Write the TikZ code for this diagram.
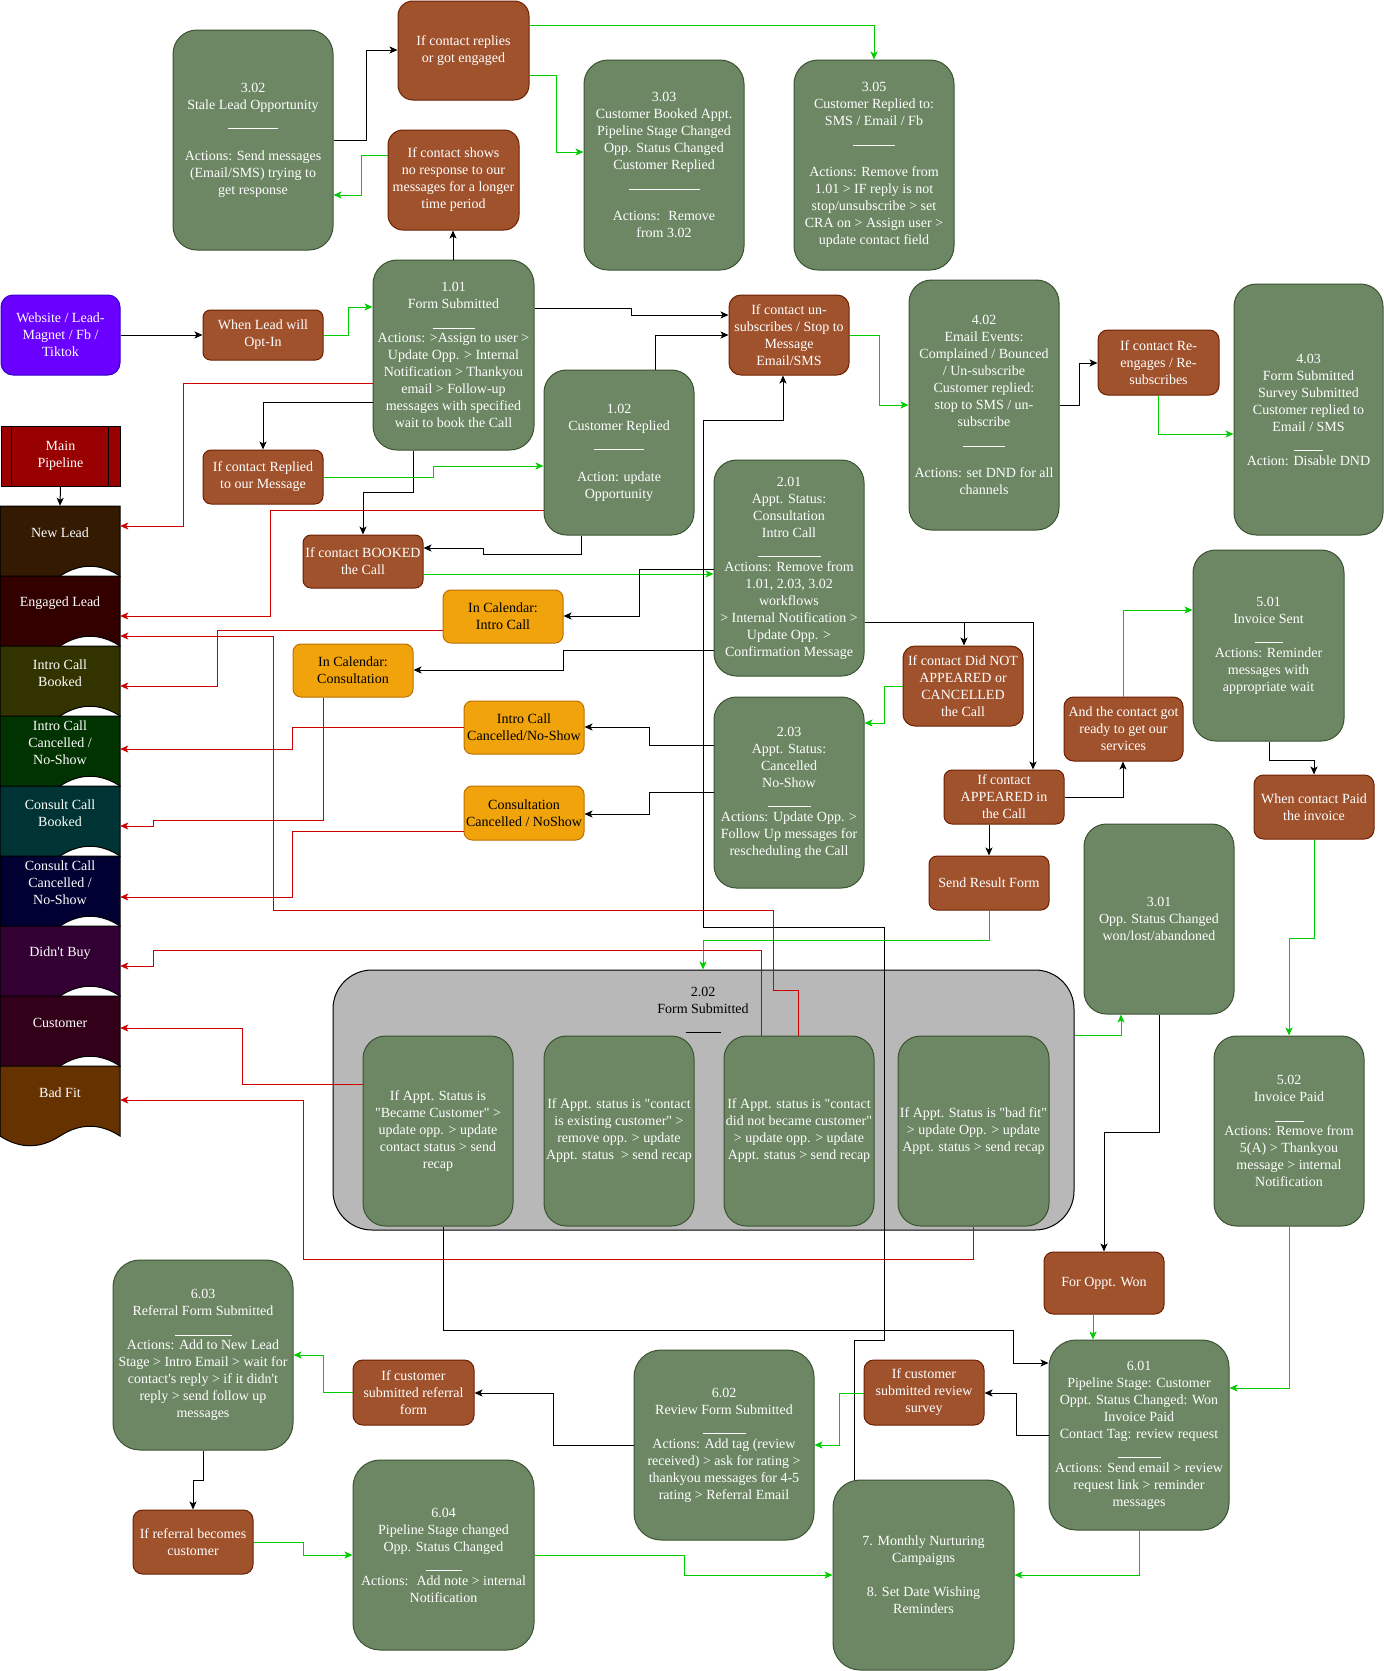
\documentclass[tikz,border=0pt]{standalone}
\usepackage{fontspec}
\setmainfont{Liberation Serif}[Ligatures=TeXOff]
\usetikzlibrary{arrows.meta}
\definecolor{gfill}{HTML}{6D8764}
\definecolor{gdraw}{HTML}{3A5431}
\definecolor{bfill}{HTML}{A0522D}
\definecolor{bdraw}{HTML}{6D1F00}
\definecolor{ofill}{HTML}{F0A30A}
\definecolor{odraw}{HTML}{BD7000}
\definecolor{pfill}{HTML}{6A00FF}
\definecolor{pdraw}{HTML}{3700CC}
\definecolor{lred}{HTML}{CC0000}
\definecolor{lpink}{HTML}{E07070}
\definecolor{lgreen}{HTML}{00CC00}
\definecolor{contfill}{HTML}{B8B8B8}
\definecolor{mpred}{HTML}{990000}
\definecolor{sA}{HTML}{331A00}
\definecolor{sB}{HTML}{330000}
\definecolor{sC}{HTML}{333300}
\definecolor{sD}{HTML}{003300}
\definecolor{sE}{HTML}{003333}
\definecolor{sF}{HTML}{000033}
\definecolor{sG}{HTML}{330033}
\definecolor{sH}{HTML}{33001A}
\definecolor{sI}{HTML}{663300}
\newcommand\ul[1]{\rule[-3pt]{#1pt}{0.9pt}}
\newcommand\B[7]{%
  \pgfmathsetmacro\bxW{#5-#3}%
  \pgfmathsetmacro\bxH{#6-#4}%
  \pgfmathsetmacro\bxX{(#3+#5)/2}%
  \pgfmathsetmacro\bxY{(#4+#6)/2}%
  \pgfmathsetmacro\bxR{0.15*min(\bxW,\bxH)}%
  \node[#1, minimum width=\bxW pt, minimum height=\bxH pt, rounded corners=\bxR pt] (#2) at (\bxX,\bxY) {#7};}
\newcommand\stage[4]{%
  \path[fill=#3, draw=black, line width=1pt] (0,#2) -- (120,#2) -- (120,#2+70)
    .. controls (100,#2+57) and (80,#2+57) .. (60,#2+70)
    .. controls (40,#2+83) and (20,#2+83) .. (0,#2+70) -- cycle;
  \node[stagetext] (#1) at (60,#2+27) {#4};}
\tikzset{
  base/.style={draw, line width=1pt, align=center, inner sep=1pt, font=\fontsize{14}{17}\selectfont},
  gbox/.style={base, fill=gfill, draw=gdraw, text=white},
  bbox/.style={base, fill=bfill, draw=bdraw, text=white},
  obox/.style={base, fill=ofill, draw=odraw, text=black},
  pbox/.style={base, fill=pfill, draw=pdraw, text=white},
  cbox/.style={base, fill=contfill, draw=black},
  stagetext/.style={align=center, text=white, inner sep=0pt, minimum width=120pt, minimum height=54pt, font=\fontsize{14}{17}\selectfont},
  conn/.style={line width=1pt, -{Stealth[length=8pt,width=7pt,inset=2pt]}},
  blk/.style={conn, color=black},
  grn/.style={conn, color=lgreen},
  rd/.style={conn, color=lred},
}
\begin{document}
\begin{tikzpicture}[x=1pt,y=-1pt]
\path[use as bounding box, fill=white] (0,0) rectangle (1384,1671);

% ---------- pipeline column ----------
\node[base, fill=mpred, draw=black, text=white, minimum width=119pt, minimum height=60pt, inner sep=0pt] (mp) at (60.5,456) {Main\\Pipeline};
\draw[line width=1pt] ([xshift=11pt]mp.north west) -- ([xshift=11pt]mp.south west);
\draw[line width=1pt] ([xshift=-12pt]mp.north east) -- ([xshift=-12pt]mp.south east);
\stage{newlead}{506}{sA}{New Lead}
\stage{engaged}{576}{sB}{Engaged Lead}
\stage{introbooked}{646}{sC}{Intro Call\\Booked}
\stage{introcanc}{716}{sD}{Intro Call\\Cancelled /\\No-Show}
\stage{consbooked}{786}{sE}{Consult Call\\Booked}
\stage{conscanc}{856}{sF}{Consult Call\\Cancelled /\\No-Show}
\stage{didntbuy}{926}{sG}{Didn't Buy}
\stage{customer}{996}{sH}{Customer}
\stage{badfit}{1066}{sI}{Bad Fit}

% ---------- boxes ----------
\B{gbox}{n302}{173}{30}{333}{250}{3.02\\Stale Lead Opportunity\\\ul{50}\\\mbox{}\\Actions: Send messages\\(Email/SMS) trying to\\get response}
\B{bbox}{ifrep}{398}{1}{529}{100}{If contact replies\\or got engaged}
\B{bbox}{ifshow}{388}{130}{519}{230}{If contact shows\\no response to our\\messages for a longer\\time period}
\B{pbox}{src}{1}{295}{120}{375}{Website / Lead-\\Magnet / Fb /\\Tiktok}
\B{bbox}{whenlead}{203}{310}{323}{360}{When Lead will\\Opt-In}
\B{gbox}{n101}{373}{260}{534}{450}{1.01\\Form Submitted\\\ul{42}\\Actions: >Assign to user >\\Update Opp. > Internal\\Notification > Thankyou\\email > Follow-up\\messages with specified\\wait to book the Call}
\B{gbox}{n303}{584}{60}{744}{270}{3.03\\Customer Booked Appt.\\Pipeline Stage Changed\\Opp. Status Changed\\Customer Replied\\\ul{71}\\\mbox{}\\Actions:~ Remove\\from 3.02}
\B{gbox}{n305}{794}{60}{954}{270}{3.05\\Customer Replied to:\\SMS / Email / Fb\\\ul{42}\\\mbox{}\\Actions: Remove from\\1.01 > IF reply is not\\stop/unsubscribe > set\\CRA on > Assign user >\\update contact field}
\B{bbox}{unsub}{729}{295}{849}{375}{If contact un-\\subscribes / Stop to\\Message\\Email/SMS}
\B{gbox}{n402}{909}{280}{1059}{530}{4.02\\Email Events:\\Complained / Bounced\\/ Un-subscribe\\Customer replied:\\stop to SMS / un-\\subscribe\\\ul{42}\\\mbox{}\\Actions: set DND for all\\channels}
\B{bbox}{reeng}{1098}{330}{1219}{395}{If contact Re-\\engages / Re-\\subscribes}
\B{gbox}{n403}{1234}{284}{1383}{535}{4.03\\Form Submitted\\Survey Submitted\\Customer replied to\\Email / SMS\\\ul{29}\\Action: Disable DND}
\B{bbox}{ifreplied}{203}{450}{323}{504}{If contact Replied\\to our Message}
\B{bbox}{booked}{303}{535}{423}{588}{If contact BOOKED\\the Call}
\B{gbox}{n102}{544}{370}{694}{535}{1.02\\Customer Replied\\\ul{50}\\\mbox{}\\Action: update\\Opportunity}
\B{gbox}{n201}{714}{460}{864}{676}{2.01\\Appt. Status:\\Consultation\\Intro Call\\\ul{63}\\Actions: Remove from\\1.01, 2.03, 3.02\\workflows\\> Internal Notification >\\Update Opp. >\\Confirmation Message}
\B{obox}{calintro}{443}{590}{563}{643}{In Calendar:\\Intro Call}
\B{obox}{calcons}{293}{644}{413}{697}{In Calendar:\\Consultation}
\B{obox}{canintro}{464}{701}{584}{754}{Intro Call\\Cancelled/No-Show}
\B{obox}{cancons}{464}{786}{584}{840}{Consultation\\Cancelled / NoShow}
\B{bbox}{didnot}{903}{646}{1023}{726}{If contact Did NOT\\APPEARED or\\CANCELLED\\the Call}
\B{gbox}{n203}{714}{697}{864}{888}{2.03\\Appt. Status:\\Cancelled\\No-Show\\\ul{43}\\Actions: Update Opp. >\\Follow Up messages for\\rescheduling the Call}
\B{bbox}{appeared}{944}{770}{1064}{824}{If contact\\APPEARED in\\the Call}
\B{bbox}{ready}{1064}{697}{1183}{761}{And the contact got\\ready to get our\\services}
\B{gbox}{n501}{1193}{550}{1344}{741}{5.01\\Invoice Sent\\\ul{28}\\Actions: Reminder\\messages with\\appropriate wait}
\B{bbox}{paid}{1254}{775}{1374}{839}{When contact Paid\\the invoice}
\B{bbox}{sendres}{929}{856}{1049}{910}{Send Result Form}
\B{gbox}{n301}{1084}{824}{1234}{1014}{3.01\\Opp. Status Changed\\won/lost/abandoned}
\B{cbox}{cont}{333}{970}{1074}{1230}{}
\node[align=center, inner sep=0pt, font=\fontsize{14}{17}\selectfont, text=black] (conttxt) at (703,1010) {2.02\\Form Submitted\\\ul{35}};
\B{gbox}{sub1}{363}{1036}{513}{1226}{If Appt. Status is\\"Became Customer" >\\update opp. > update\\contact status > send\\recap}
\B{gbox}{sub2}{544}{1036}{694}{1226}{If Appt. status is "contact\\is existing customer" >\\remove opp. > update\\Appt. status~ > send recap}
\B{gbox}{sub3}{724}{1036}{874}{1226}{If Appt. status is "contact\\did not became customer"\\> update opp. > update\\Appt. status > send recap}
\B{gbox}{sub4}{898}{1036}{1049}{1226}{If Appt. Status is "bad fit"\\> update Opp. > update\\Appt. status > send recap}
\B{gbox}{n502}{1214}{1036}{1364}{1226}{5.02\\Invoice Paid\\\ul{29}\\Actions: Remove from\\5(A) > Thankyou\\message > internal\\Notification}
\B{bbox}{forwon}{1044}{1252}{1164}{1314}{For Oppt. Won}
\B{gbox}{n601}{1049}{1340}{1229}{1530}{6.01\\Pipeline Stage: Customer\\Oppt. Status Changed: Won\\Invoice Paid\\Contact Tag: review request\\\ul{43}\\Actions: Send email > review\\request link > reminder\\messages}
\B{bbox}{review}{864}{1360}{984}{1425}{If customer\\submitted review\\survey}
\B{gbox}{n602}{634}{1350}{814}{1540}{6.02\\Review Form Submitted\\\ul{43}\\Actions: Add tag (review\\received) > ask for rating >\\thankyou messages for 4-5\\rating > Referral Email}
\B{bbox}{refform}{353}{1360}{474}{1425}{If customer\\submitted referral\\form}
\B{gbox}{n603}{113}{1260}{293}{1450}{6.03\\Referral Form Submitted\\\ul{57}\\Actions: Add to New Lead\\Stage > Intro Email > wait for\\contact's reply > if it didn't\\reply > send follow up\\messages}
\B{bbox}{refcust}{133}{1510}{253}{1574}{If referral becomes\\customer}
\B{gbox}{n604}{353}{1460}{534}{1650}{6.04\\Pipeline Stage changed\\Opp. Status Changed\\\ul{36}\\Actions:~ Add note > internal\\Notification}
\B{gbox}{n7}{833}{1480}{1014}{1670}{7. Monthly Nurturing\\Campaigns\\\mbox{}\\8. Set Date Wishing\\Reminders}

% ---------- connectors ----------
\draw[blk] (mp.south) -- (newlead.north);
\draw[blk] (n302.east |- 0,140) -- (366,140) -- (366,50) -- (ifrep.west |- 0,50);
\draw[grn] (ifshow.west |- 0,155) -- (361,155) -- (361,195) -- (n302.east |- 0,195);
\draw[blk] (src.east |- 0,335) -- (whenlead.west |- 0,335);
\draw[grn] (whenlead.east |- 0,335) -- (348,335) -- (348,307) -- (n101.west |- 0,307);
\draw[blk] (n101.north -| 453,0) -- (ifshow.south -| 453,0);
\draw[blk] (n101.west |- 0,402) -- (263,402) -- (ifreplied.north -| 263,0);
\draw[blk] (n101.south -| 413,0) -- (413,492) -- (363,492) -- (booked.north -| 363,0);
\draw[grn] (ifreplied.east |- 0,477) -- (433,477) -- (433,466) -- (n102.west |- 0,466);
\draw[blk] (n102.south -| 581,0) -- (581,554) -- (483,554) -- (483,548) -- (booked.east |- 0,548);
\draw[grn] (booked.east |- 0,574) -- (n201.west |- 0,574);
\draw[blk] (n101.east |- 0,308) -- (631,308) -- (631,315) -- (unsub.west |- 0,315);
\draw[blk] (n102.north -| 655,0) -- (655,335) -- (unsub.west |- 0,335);
\draw[blk] (n7.north -| 854,0) -- (854,1340) -- (884,1340) -- (884,927) -- (703,927) -- (703,420) -- (783,420) -- (unsub.south -| 783,0);
\draw[blk] (n201.west |- 0,569) -- (639,569) -- (639,616) -- (calintro.east |- 0,616);
\draw[blk] (n201.west |- 0,650) -- (563,650) -- (563,670) -- (calcons.east |- 0,670);
\draw[blk] (n201.east |- 0,622) -- (964,622) -- (didnot.north -| 964,0);
\draw[blk] (n201.east |- 0,622) -- (1033,622) -- (appeared.north -| 1033,0);
\draw[grn] (didnot.west |- 0,686) -- (884,686) -- (884,723) -- (n203.east |- 0,723);
\draw[blk] (n203.west |- 0,745) -- (649,745) -- (649,727) -- (canintro.east |- 0,727);
\draw[blk] (n203.west |- 0,792) -- (649,792) -- (649,814) -- (cancons.east |- 0,814);
\draw[blk] (appeared.east |- 0,797) -- (1123,797) -- (ready.south -| 1123,0);
\draw[grn] (ready.north -| 1123,0) -- (1123,610) -- (n501.west |- 0,610);
\draw[blk] (n501.south -| 1269,0) -- (1269,760) -- (1314,760) -- (paid.north -| 1314,0);
\draw[grn] (paid.south -| 1314,0) -- (1314,938) -- (1289,938) -- (n502.north -| 1289,0);
\draw[grn] (n502.south -| 1289,0) -- (1289,1388) -- (n601.east |- 0,1388);
\draw[blk] (appeared.south -| 989,0) -- (sendres.north -| 989,0);
\draw[grn] (sendres.south -| 989,0) -- (989,940) -- (703,940) -- (cont.north -| 703,0);
\draw[grn] (cont.east |- 0,1035) -- (1121,1035) -- (n301.south -| 1121,0);
\draw[blk] (n301.south -| 1159,0) -- (1159,1132) -- (1104,1132) -- (forwon.north -| 1104,0);
\draw[grn] (forwon.south -| 1093,0) -- (n601.north -| 1093,0);
\draw[blk] (sub1.south -| 443,0) -- (443,1330) -- (1013,1330) -- (1013,1363) -- (n601.west |- 0,1363);
\draw[blk] (n601.west |- 0,1435) -- (1016,1435) -- (1016,1393) -- (review.east |- 0,1393);
\draw[grn] (review.west |- 0,1393) -- (839,1393) -- (839,1445) -- (n602.east |- 0,1445);
\draw[blk] (n602.west |- 0,1445) -- (553,1445) -- (553,1393) -- (refform.east |- 0,1393);
\draw[grn] (refform.west |- 0,1392) -- (323,1392) -- (323,1355) -- (n603.east |- 0,1355);
\draw[blk] (n603.south -| 203,0) -- (203,1480) -- (193,1480) -- (refcust.north -| 193,0);
\draw[grn] (refcust.east |- 0,1542) -- (303,1542) -- (303,1555) -- (n604.west |- 0,1555);
\draw[grn] (n604.east |- 0,1555) -- (684,1555) -- (684,1575) -- (n7.west |- 0,1575);
\draw[grn] (n601.south -| 1139,0) -- (1139,1575) -- (n7.east |- 0,1575);
\draw[grn] (ifrep.east |- 0,75) -- (556,75) -- (556,152) -- (n303.west |- 0,152);
\draw[grn] (ifrep.east |- 0,25) -- (874,25) -- (n305.north -| 874,0);
\draw[grn] (unsub.east |- 0,335) -- (879,335) -- (879,405) -- (n402.west |- 0,405);
\draw[blk] (n402.east |- 0,405) -- (1079,405) -- (1079,363) -- (reeng.west |- 0,363);
\draw[grn] (reeng.south -| 1158,0) -- (1158,434) -- (n403.west |- 0,434);

% red connectors to pipeline stages
\draw[rd] (n101.west |- 0,383) -- (183,383) -- (183,526) -- (newlead.east |- 0,526);
\draw[rd] (n102.west |- 0,510) -- (270,510) -- (270,616) -- (engaged.east |- 0,616);
\draw[rd] (sub3.north -| 798,0) -- (798,990) -- (773,990) -- (773,910) -- (273,910) -- (273,636) -- (engaged.east |- 0,636);
\draw[rd] (calintro.west |- 0,630) -- (217,630) -- (217,686) -- (introbooked.east |- 0,686);
\draw[rd] (canintro.west |- 0,727) -- (292,727) -- (292,749) -- (introcanc.east |- 0,749);
\draw[rd] (calcons.south -| 323,0) -- (323,820) -- (153,820) -- (153,826) -- (consbooked.east |- 0,826);
\draw[rd] (cancons.west |- 0,831) -- (292,831) -- (292,897) -- (conscanc.east |- 0,897);
\draw[rd] (sub3.north -| 761,0) -- (761,950) -- (153,950) -- (153,966) -- (didntbuy.east |- 0,966);
\draw[rd] (sub1.west |- 0,1084) -- (242,1084) -- (242,1028) -- (customer.east |- 0,1028);
\draw[rd] (sub4.south -| 973,0) -- (973,1259) -- (303,1259) -- (303,1100) -- (badfit.east |- 0,1100);
\end{tikzpicture}
\end{document}
